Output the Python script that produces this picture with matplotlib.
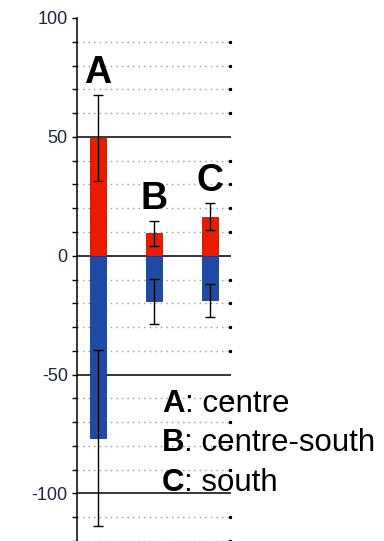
import matplotlib
matplotlib.use("Agg")
import matplotlib.pyplot as plt
import numpy as np

plt.rcParams['font.family'] = ['Liberation Sans', 'DejaVu Sans']

# data
regions = ["A", "B", "C"]
region_names = ["centre", "centre-south", "south"]
pos_vals = [49.5, 9.5, 16.5]
pos_err = [18.0, 5.2, 5.8]
neg_vals = [-76.8, -19.2, -18.8]
neg_err = [37.0, 9.5, 7.0]
y_ticks = list(range(-120, 101, 10))
y_labels = [-100, -50, 0, 50, 100]

red = "#ee1a00"
blue = "#1f4aa6"
label_col = "#1c2541"

fig = plt.figure(figsize=(3.84, 5.41), dpi=100)
ax = fig.add_axes([77 / 384, 0, 154 / 384, 523 / 541])

x = np.arange(len(regions))
w = 0.30

# grid lines
for t in y_ticks:
    if t == 100:
        continue
    if t % 50 == 0:
        ax.axhline(t, color="black", lw=1.1, zorder=1)
    else:
        ax.axhline(t, color="#9a9a9a", lw=1.0, ls=(0, (1, 3)), zorder=1)
        ax.plot([2.365], [t], marker="s", ms=1.3, color="black", clip_on=False, zorder=1)

ax.bar(x, pos_vals, w, color=red, edgecolor="#b81500", lw=0.6, zorder=2)
ax.bar(x, neg_vals, w, color=blue, edgecolor="#17388a", lw=0.6, zorder=2)
ax.errorbar(x, pos_vals, yerr=pos_err, fmt="none", ecolor="black",
            elinewidth=1.0, capsize=3.3, capthick=1.0, zorder=3)
ax.errorbar(x, neg_vals, yerr=neg_err, fmt="none", ecolor="black",
            elinewidth=1.0, capsize=3.3, capthick=1.0, zorder=3)

for xi, v, e, lab in zip(x, pos_vals, pos_err, regions):
    ax.text(xi, v + e + 5, lab, ha="center", va="baseline",
            fontsize=27, fontweight="bold", color="black", zorder=4)

ax.set_xlim(-0.375, 2.375)
ax.set_ylim(-120, 100)
ax.set_xticks([])
ax.set_yticks(y_ticks)
ax.set_yticklabels([str(t) if t in y_labels else "" for t in y_ticks])
ax.tick_params(axis="y", direction="out", length=3.6, width=1.0,
               labelsize=13, labelcolor=label_col, pad=3)
for s in ["top", "right", "bottom"]:
    ax.spines[s].set_visible(False)
ax.spines["left"].set_linewidth(1.1)

# region key
fig.canvas.draw()
r = fig.canvas.get_renderer()
base_y = [411.7, 451.2, 490.7]
for lab, name, by in zip(regions, region_names, base_y):
    t = fig.text(162 / 384, 1 - by / 541, lab, fontsize=22.5, fontweight="bold",
                 va="baseline", ha="left")
    bb = t.get_window_extent(r)
    fig.text(bb.x1 / 384, 1 - by / 541, ": " + name, fontsize=22.5,
             va="baseline", ha="left")

fig.savefig("out.png", dpi=100)
